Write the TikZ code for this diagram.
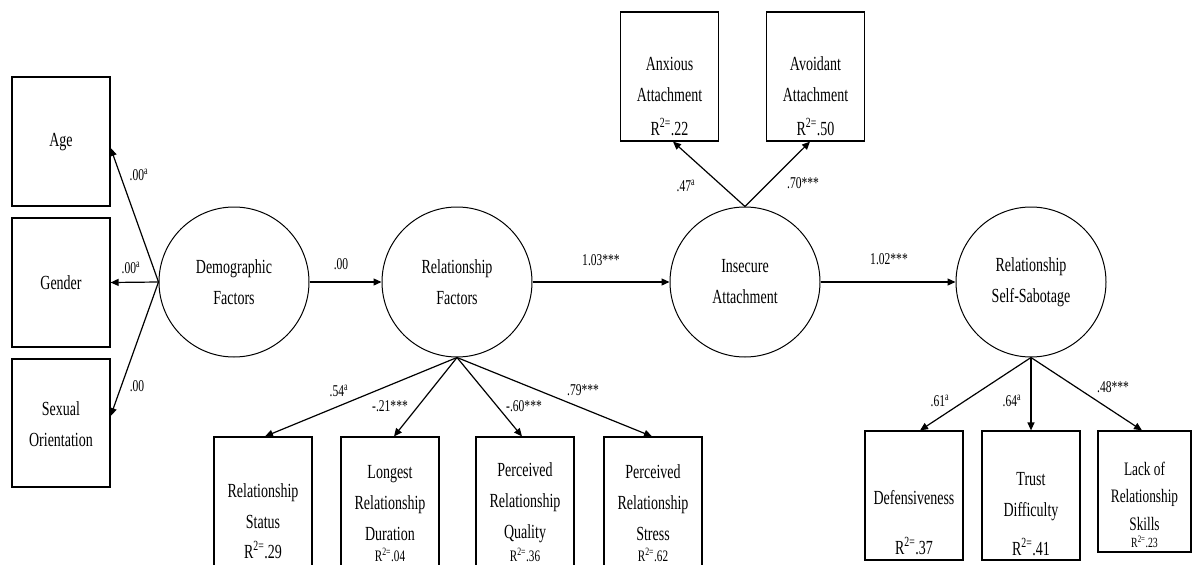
\documentclass[tikz,border=0pt]{standalone}
\usepackage{fontspec}
\setmainfont[FakeStretch=0.70]{Liberation Serif}
\usetikzlibrary{arrows.meta,calc}

\newcommand{\bigtxt}{\fontsize{20}{31}\selectfont}
\newcommand{\coeftxt}{\fontsize{16.5}{18}\selectfont}
\newcommand{\rsq}[1]{R\textsuperscript{2=}#1}
\newcommand{\rsqs}[1]{{\fontsize{16}{18}\selectfont R\textsuperscript{2=}#1}}
\newcommand{\supa}{\textsuperscript{a}}

\begin{document}
\begin{tikzpicture}[x=1pt,y=-1pt,
  box/.style={draw, line width=1.2pt, minimum width=98pt, inner sep=0pt},
  latent/.style={draw, circle, line width=1pt, minimum size=150pt, inner sep=0pt, align=center, font=\bigtxt},
  txt/.style={align=center, inner sep=0pt, font=\bigtxt},
  coef/.style={inner sep=0pt, font=\coeftxt},
  link/.style={line width=1.2pt, -{Triangle[length=8pt,width=7pt]}}
]
\fill[white] (0,0) rectangle (1192,565);
\clip (0,0) rectangle (1192,565);

% latent variables
\node[latent] (demo) at (234,282) {Demographic\\Factors};
\node[latent] (rel)  at (457,282) {Relationship\\Factors};
\node[latent] (ins)  at (745,282) {Insecure\\Attachment};
\node[latent] (sab)  at (1031,282) {Relationship\\Self-Sabotage};

% demographic indicators
\node[box, minimum height=129pt] (age)    at (61,141.5) {};
\node[box, minimum height=129pt] (gender) at (61,282.5) {};
\node[box, minimum height=128pt] (sexual) at (61,423) {};
\node[txt] (ageT) at (61,142) {Age};
\node[txt] (genderT) at (61,283) {Gender};
\node[txt] (sexualT) at (61,424) {Sexual\\Orientation};

% attachment indicators
\node[box, minimum height=129pt] (anx) at (669.5,76.5) {};
\node[box, minimum height=129pt] (avo) at (815.5,76.5) {};
\node[txt] (anxT) at (669.5,79) {Anxious\\Attachment};
\node[txt] (anxR) at (669.5,127) {\rsq{.22}};
\node[txt] (avoT) at (815.5,79) {Avoidant\\Attachment};
\node[txt] (avoR) at (815.5,127) {\rsq{.50}};

% relationship indicators
\node[box, minimum height=140pt] (status)  at (263,507) {};
\node[box, minimum height=140pt] (longest) at (390,507) {};
\node[box, minimum height=140pt] (quality) at (525,507) {};
\node[box, minimum height=140pt] (stress)  at (653,507) {};
\node[txt] (statusT)  at (263,506) {Relationship\\Status};
\node[txt] (statusR)  at (263,550) {\rsq{.29}};
\node[txt] (longestT) at (390,503) {Longest\\Relationship\\Duration};
\node[txt] (longestR) at (390,555) {\rsqs{.04}};
\node[txt] (qualityT) at (525,503) {Perceived\\Relationship\\Quality};
\node[txt] (qualityR) at (525,555) {\rsqs{.36}};
\node[txt] (stressT)  at (653,503) {Perceived\\Relationship\\Stress};
\node[txt] (stressR)  at (653,555) {\rsqs{.62}};

% self-sabotage indicators
\node[box, minimum height=129pt] (def)   at (914,495.5) {};
\node[box, minimum height=129pt] (trust) at (1031,495.5) {};
\node[box, minimum width=93pt, minimum height=121pt] (lack) at (1144.5,491.5) {};
\node[txt] (defT)   at (914,498) {Defensiveness};
\node[txt] (defR)   at (914,546) {\rsq{.37}};
\node[txt] (trustT) at (1031,497) {Trust\\Difficulty};
\node[txt] (trustR) at (1031,547) {\rsq{.41}};
\node[txt, font=\fontsize{19}{27.5}\selectfont] (lackT) at (1144.5,496) {Lack of\\Relationship\\Skills};
\node[txt, font=\fontsize{14}{16}\selectfont] (lackR) at (1144.5,542) {R\textsuperscript{2=}.23};

% structural paths
\draw[link] (demo) -- (rel);
\draw[link] (rel) -- (ins);
\draw[link] (ins) -- (sab);

% loadings
\draw[link] (demo.west) -- ($(age.east)+(0,6.5)$);
\draw[link] (demo.west) -- (gender.east);
\draw[link] (demo.west) -- ($(sexual.east)+(0,-7)$);
\draw[link] (ins.north) -- ($(anx.south)+(3.5,0)$);
\draw[link] (ins.north) -- ($(avo.south)+(-5.5,0)$);
\draw[link] (rel.south) -- ($(status.north)+(2,0)$);
\draw[link] (rel.south) -- ($(longest.north)+(4,0)$);
\draw[link] (rel.south) -- ($(quality.north)+(-3,0)$);
\draw[link] (rel.south) -- ($(stress.north)+(-1,0)$);
\draw[link] (sab.south) -- ($(def.north)+(6,0)$);
\draw[link] (sab.south) -- (trust.north);
\draw[link] (sab.south) -- ($(lack.north)+(-2.5,0)$);

% coefficients
\node[coef] (cAge)    at (139,175) {.00\supa};
\node[coef] (cGender) at (131,268) {.00\supa};
\node[coef] (cSexual) at (137,386) {.00};
\node[coef] (cDR)     at (341,264) {.00};
\node[coef] (cRI)     at (601,260) {1.03***};
\node[coef] (cIS)     at (889,259) {1.02***};
\node[coef] (cAnx)    at (686,186) {.47\supa};
\node[coef] (cAvo)    at (803,183) {.70***};
\node[coef] (cStatus) at (339,391) {.54\supa};
\node[coef] (cLong)   at (390,406) {-.21***};
\node[coef] (cQual)   at (524,406) {-.60***};
\node[coef] (cStress) at (583,390) {.79***};
\node[coef] (cDef)    at (940,401) {.61\supa};
\node[coef] (cTrust)  at (1012,401) {.64\supa};
\node[coef] (cLack)   at (1113,387) {.48***};
\end{tikzpicture}
\end{document}
